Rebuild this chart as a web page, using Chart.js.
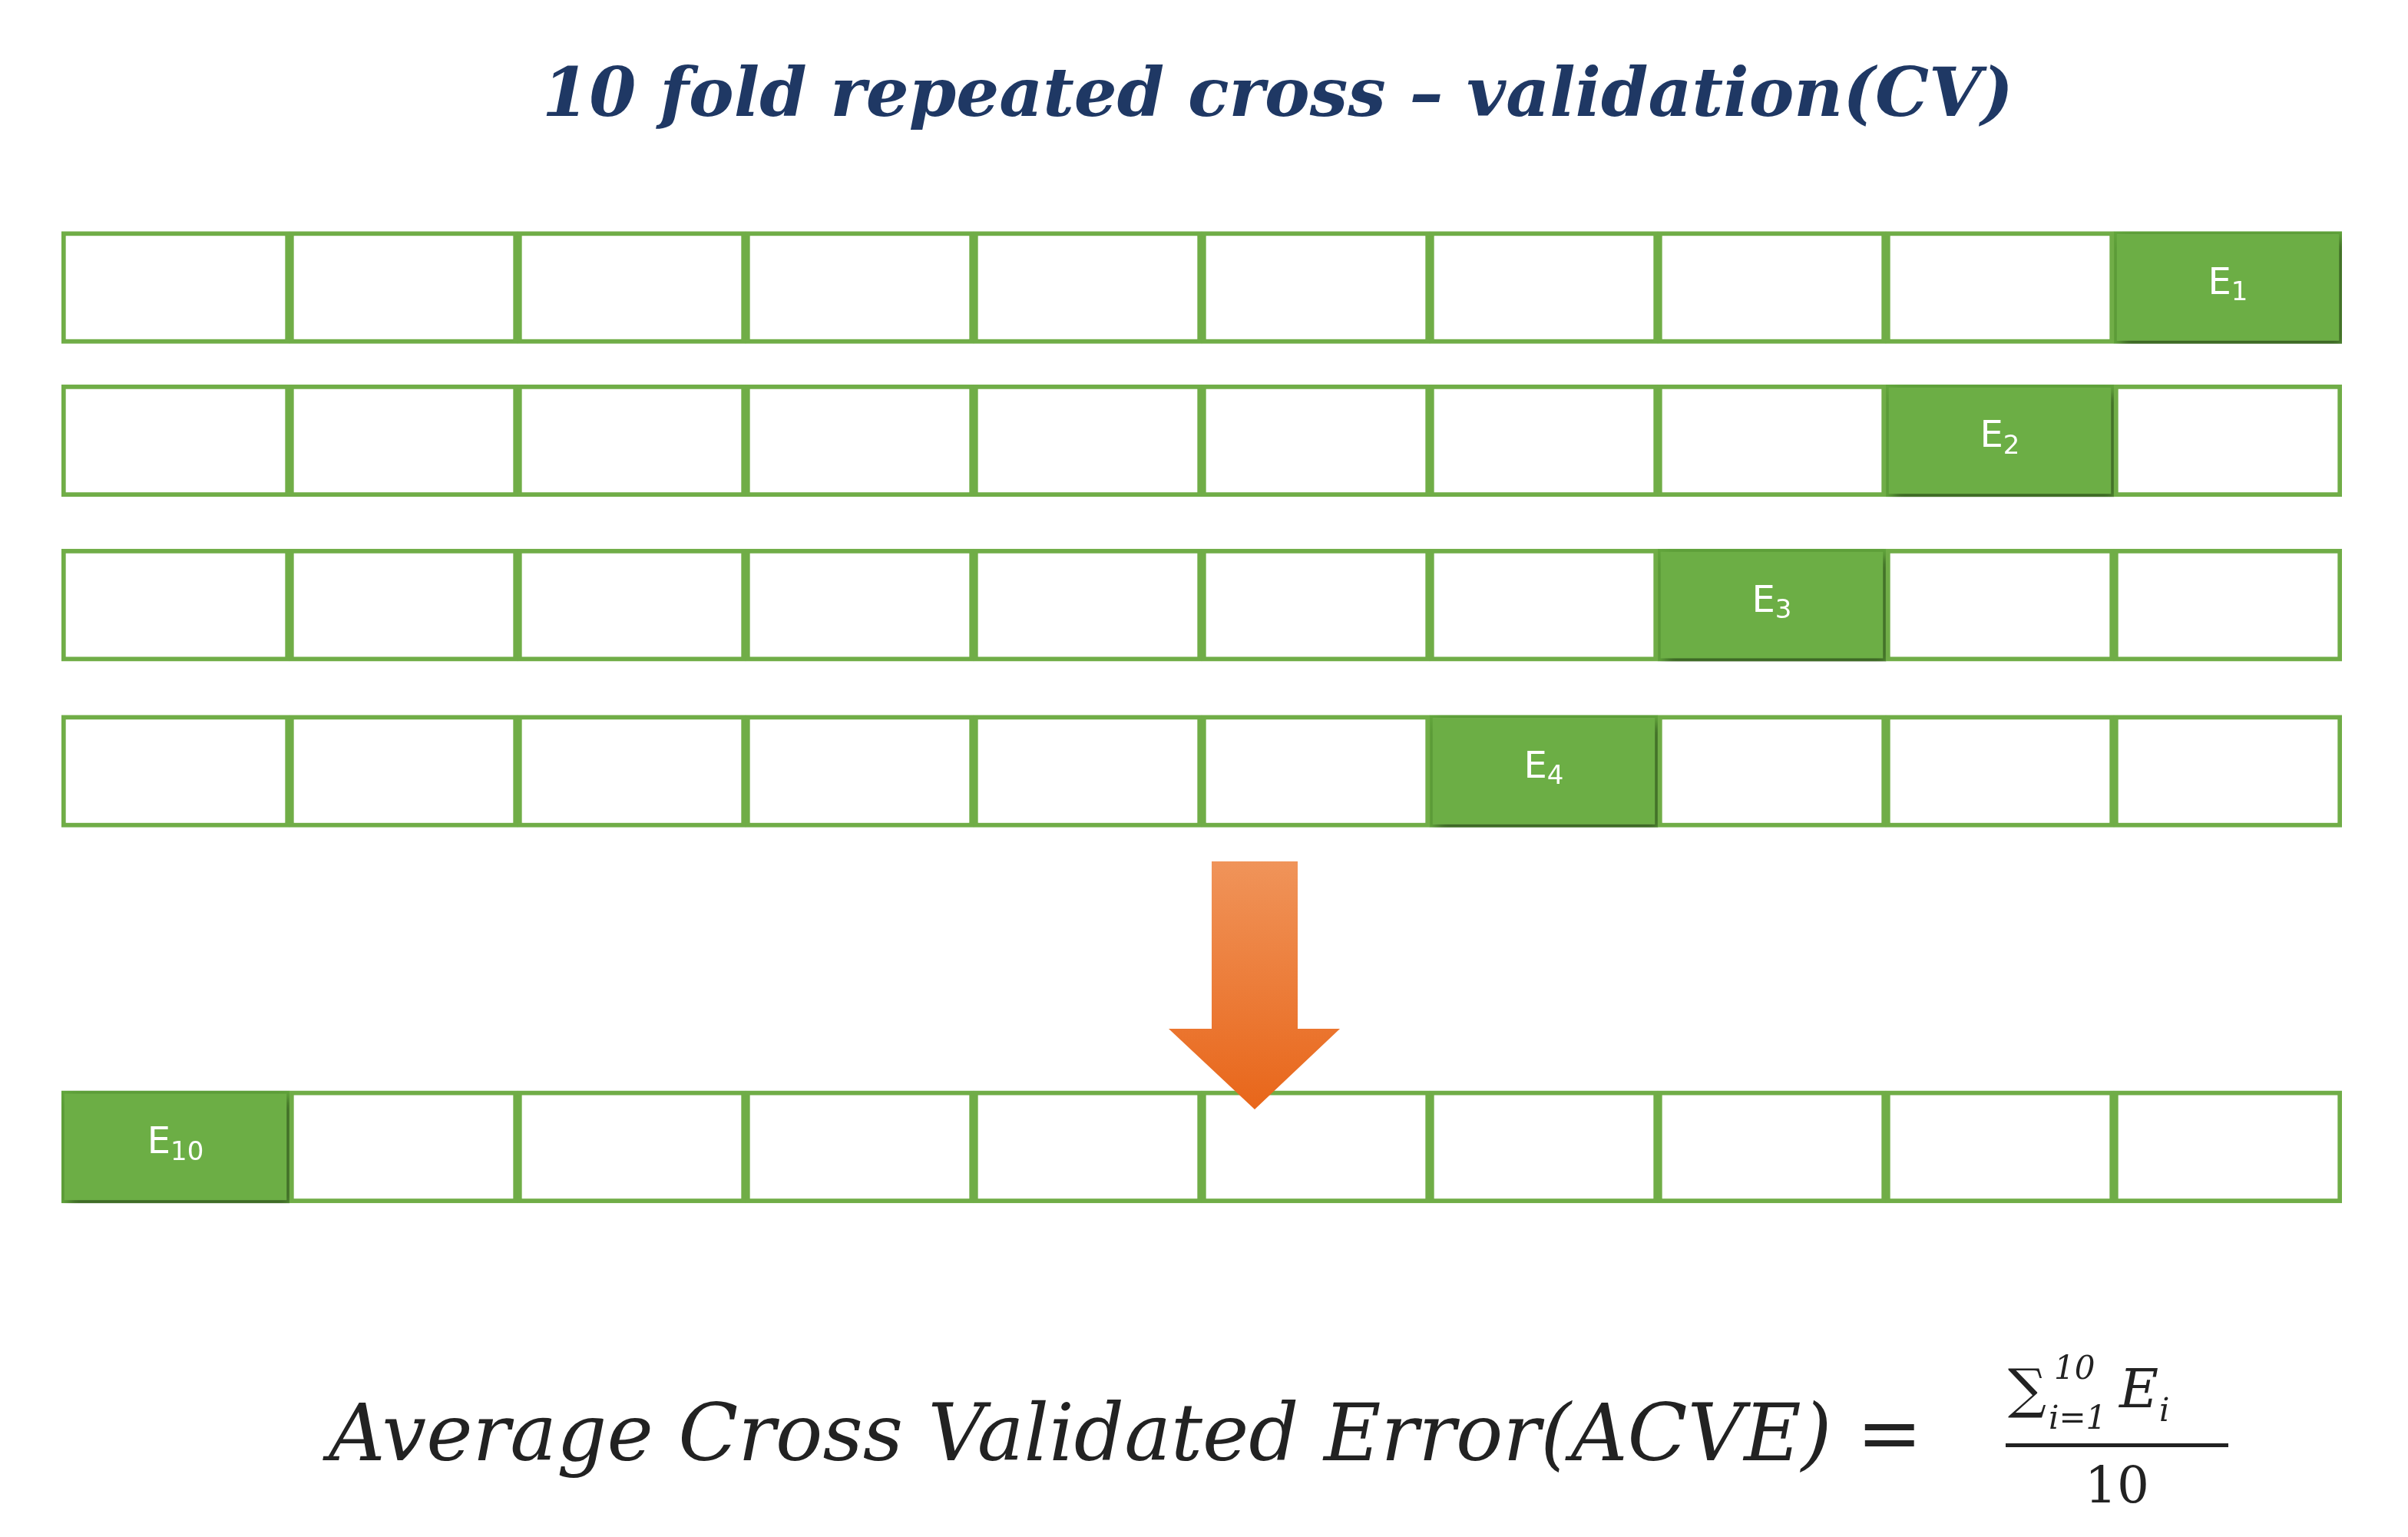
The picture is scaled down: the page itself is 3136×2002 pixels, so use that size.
<!DOCTYPE html>
<html>
<head>
<meta charset="utf-8">
<script src="https://cdn.jsdelivr.net/npm/chart.js@4/dist/chart.umd.min.js"></script>
<style>
  html, body { margin: 0; padding: 0; background: #fff; }
  #wrap { width: 3136px; height: 2002px; position: relative; }
</style>
</head>
<body>
<div id="wrap"><canvas id="cv"></canvas></div>
<script>
// rows of the diagram: which fold is the held-out one, and its label
const rowNames = ['E1', 'E2', 'E3', 'E4', 'E10'];
const rowPositions = [1, 1.95, 2.97, 4, 6.33];
const testFold = [10, 9, 8, 7, 1];
const foldCount = 10;

const green = '#70ad47';

const trainData = [];
const testData = [];
rowPositions.forEach((y, r) => {
  for (let f = 1; f <= foldCount; f++) {
    const pt = { x: [f - 1, f], y: y, label: rowNames[r] };
    if (f === testFold[r]) testData.push(pt); else trainData.push(pt);
  }
});

const decor = {
  id: 'decor',
  beforeDatasetDraw(chart, args) {
    if (args.index === 1) {
      const c = chart.ctx;
      c.save();
      c.shadowColor = 'rgba(0,0,0,0.45)';
      c.shadowBlur = 14;
      c.shadowOffsetX = 6;
      c.shadowOffsetY = 8;
    }
  },
  afterDatasetDraw(chart, args) {
    if (args.index !== 1) return;
    const c = chart.ctx;
    c.restore();
    const meta = chart.getDatasetMeta(1);
    c.save();
    c.fillStyle = '#fff';
    c.textBaseline = 'middle';
    meta.data.forEach((bar, i) => {
      const name = chart.data.datasets[1].data[i].label;
      const cx = (bar.x + bar.base) / 2, cy = bar.y;
      c.font = '48px "DejaVu Sans"';
      const main = 'E', sub = name.slice(1);
      const w1 = c.measureText(main).width;
      c.font = '34px "DejaVu Sans"';
      const w2 = c.measureText(sub).width;
      const x0 = cx - (w1 + w2) / 2;
      c.font = '48px "DejaVu Sans"';
      c.textAlign = 'left';
      c.fillText(main, x0, cy - 4);
      c.font = '34px "DejaVu Sans"';
      c.fillText(sub, x0 + w1, cy + 8);
    });
    c.restore();
  },
  afterDraw(chart) {
    const c = chart.ctx;
    c.save();
    // title
    c.fillStyle = '#1f3864';
    c.textAlign = 'center';
    c.textBaseline = 'middle';
    c.font = 'italic bold 88px "DejaVu Serif"';
    c.fillText('10 fold repeated cross \u2013 validation(CV)', 1664, 128);
    // arrow
    const g = c.createLinearGradient(0, 1120, 0, 1445);
    g.addColorStop(0, '#f0945a');
    g.addColorStop(1, '#e8661a');
    c.fillStyle = g;
    c.beginPath();
    c.moveTo(1578, 1122); c.lineTo(1690, 1122); c.lineTo(1690, 1340);
    c.lineTo(1745, 1340); c.lineTo(1634, 1445); c.lineTo(1522, 1340);
    c.lineTo(1578, 1340); c.closePath();
    c.fill();
    // formula
    c.fillStyle = '#222';
    c.textAlign = 'left';
    c.font = 'italic 102px "DejaVu Serif"';
    c.fillText('Average Cross Validated Error(ACVE) =', 428, 1875);
    c.font = 'italic 70px "DejaVu Serif"';
    c.fillText('\u2211', 2615, 1815);
    c.font = 'italic 42px "DejaVu Serif"';
    c.fillText('10', 2675, 1785);
    c.fillText('i=1', 2668, 1850);
    c.font = 'italic 70px "DejaVu Serif"';
    c.fillText('E', 2760, 1815);
    c.font = 'italic 42px "DejaVu Serif"';
    c.fillText('i', 2812, 1840);
    c.fillRect(2612, 1880, 290, 5);
    c.font = '66px "DejaVu Serif"';
    c.textAlign = 'center';
    c.fillText('10', 2757, 1940);
    c.restore();
  }
};

new Chart(document.getElementById('cv'), {
  type: 'bar',
  data: {
    datasets: [
      { label: 'train', data: trainData, backgroundColor: '#ffffff', borderColor: green,
        borderWidth: 6, borderSkipped: false, barThickness: 146, grouped: false },
      { label: 'test', data: testData, backgroundColor: '#6cae45', borderColor: '#62a63c',
        borderWidth: 4, borderSkipped: false, barThickness: 146, grouped: false }
    ]
  },
  options: {
    indexAxis: 'y',
    responsive: true,
    maintainAspectRatio: false,
    animation: false,
    layout: { padding: { left: 80, right: 86, top: 175, bottom: 315 } },
    plugins: { legend: { display: false }, tooltip: { enabled: false } },
    scales: {
      x: { type: 'linear', min: 0, max: foldCount, display: false, grid: { display: false } },
      y: { type: 'linear', min: 0.5, max: 6.8, reverse: true, display: false, grid: { display: false } }
    }
  },
  plugins: [decor]
});
</script>
</body>
</html>
